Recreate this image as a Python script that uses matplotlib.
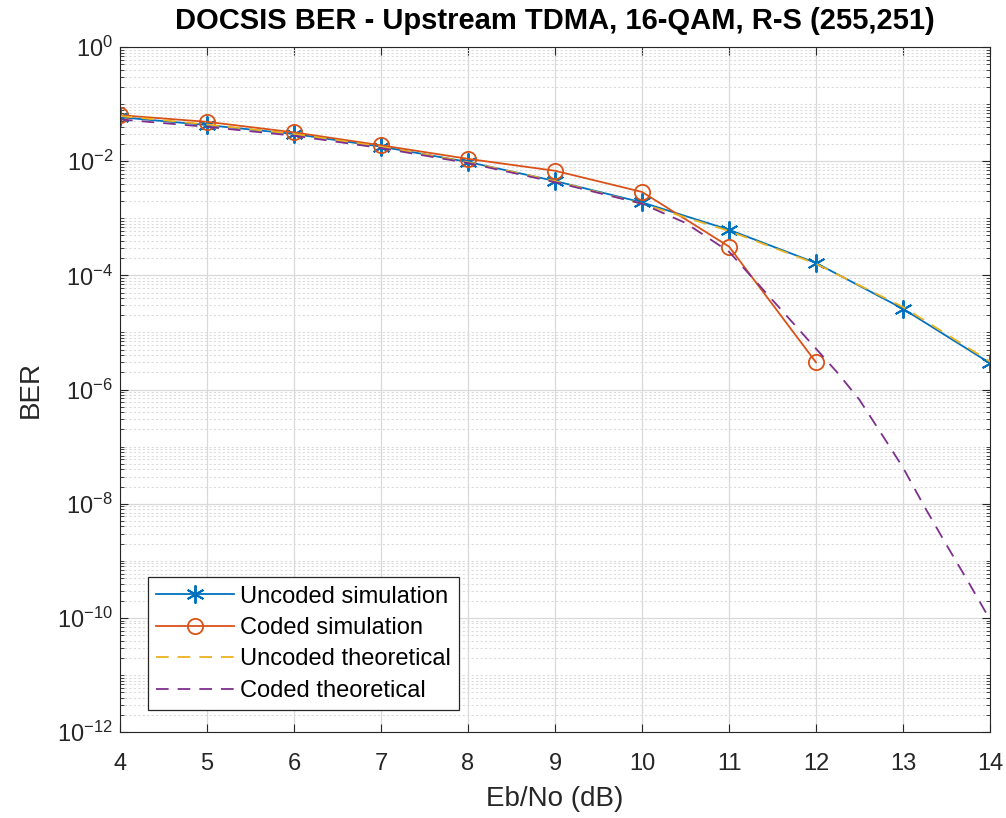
import numpy as np
import matplotlib
matplotlib.use("Agg")
import matplotlib.pyplot as plt
from matplotlib.ticker import LogLocator, NullFormatter

plt.rcParams['font.family'] = ['Liberation Sans', 'DejaVu Sans']
plt.rcParams['axes.unicode_minus'] = False

# data
ebno = [4, 5, 6, 7, 8, 9, 10, 11, 12, 13, 14]
uncoded_sim = [0.059, 0.043, 0.030, 0.018, 0.0097, 0.0045, 0.0019, 6.3e-4, 1.65e-4, 2.6e-5, 2.9e-6]
ebno_coded = [4, 5, 6, 7, 8, 9, 10, 11, 12]
coded_sim = [0.064, 0.049, 0.032, 0.019, 0.011, 0.0068, 0.0029, 3.2e-4, 3.0e-6]
uncoded_theory = [0.062, 0.044, 0.030, 0.018, 0.0096, 0.0045, 0.0018, 6.0e-4, 1.6e-4, 2.8e-5, 3.1e-6]
ebno_ct = [4, 5, 6, 7, 8, 9, 10, 10.5, 11, 11.5, 12, 12.25, 12.5, 12.75, 13, 13.25, 13.5, 13.75, 14]
coded_theory = [0.054, 0.040, 0.028, 0.017, 0.0093, 0.0043, 0.0018, 8.3e-4, 2.6e-4, 3.7e-5,
                5.2e-6, 1.95e-6, 6.6e-7, 1.7e-7, 4.3e-8, 8.7e-9, 1.9e-9, 4.3e-10, 9.3e-11]

c_blue = '#0072BD'
c_red = '#D95319'
c_yel = '#EDB120'
c_pur = '#7E2F8E'
dark = '#262626'

fig = plt.figure(figsize=(10.06, 8.18), dpi=100)
ax = fig.add_axes([0.1193, 0.105, 0.8648, 0.8375])

ax.semilogy(ebno, uncoded_sim, '-', marker=(6, 2, 0), color=c_blue, lw=1.3, ms=13, mew=1.4,
            label='Uncoded simulation')
ax.semilogy(ebno_coded, coded_sim, '-o', color=c_red, lw=1.3, ms=11, mfc='none', mew=1.3,
            label='Coded simulation')
ax.semilogy(ebno, uncoded_theory, '--', color=c_yel, lw=1.3, dashes=(7, 5), label='Uncoded theoretical')
ax.semilogy(ebno_ct, coded_theory, '--', color=c_pur, lw=1.3, dashes=(7, 5), label='Coded theoretical')

ax.set_xlim(4, 14)
ax.set_ylim(1e-12, 1)
ax.set_xticks(range(4, 15))
ax.set_yticks([10.0**k for k in range(-12, 1, 2)])
ax.yaxis.set_minor_locator(LogLocator(base=10, subs=np.arange(1, 10), numticks=100))
ax.yaxis.set_minor_formatter(NullFormatter())

ax.grid(True, which='major', color='#d9d9d9', lw=0.9)
ax.grid(True, which='minor', axis='y', color='#dcdcdc', lw=0.8, ls=(0, (2, 2)))
ax.set_axisbelow(True)

ax.tick_params(which='both', direction='in', top=True, right=True, colors=dark, labelsize=17)
ax.tick_params(which='major', length=6)
ax.tick_params(which='minor', length=3)
ax.tick_params(axis='x', pad=15)
ax.tick_params(axis='y', pad=5)
for s in ax.spines.values():
    s.set_color(dark)

ax.set_xlabel('Eb/No (dB)', fontsize=20, color=dark, labelpad=8)
ax.set_ylabel('BER', fontsize=20, color=dark, labelpad=10)
ax.set_title('DOCSIS BER - Upstream TDMA, 16-QAM, R-S (255,251)', fontsize=21, fontweight='bold',
             color='black', pad=13)

leg = ax.legend(loc='lower left', bbox_to_anchor=(0.032, 0.032), borderaxespad=0, fontsize=17,
                fancybox=False, framealpha=1, edgecolor=dark, handlelength=3.3, handletextpad=0.25,
                borderpad=0.35, labelspacing=0.4)
leg.get_frame().set_linewidth(0.9)

fig.savefig('out.png', dpi=100)
